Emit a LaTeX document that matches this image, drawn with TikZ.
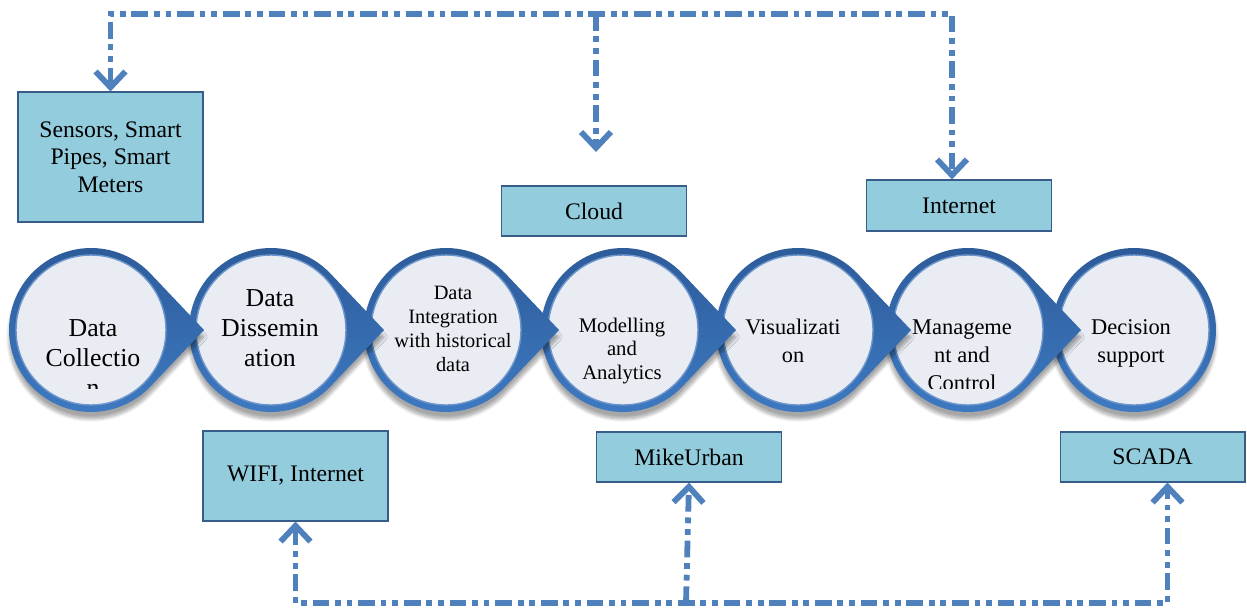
\documentclass[tikz,border=0pt]{standalone}
\usepackage{fontspec}
\setmainfont{Liberation Serif}
\usetikzlibrary{arrows.meta,calc,shadows.blur}
\definecolor{boxfill}{RGB}{147,205,221}
\definecolor{boxline}{RGB}{56,93,138}
\definecolor{linkblue}{RGB}{79,129,189}
\definecolor{ringtop}{RGB}{44,90,152}
\definecolor{ringbot}{RGB}{62,122,194}
\definecolor{stepfill}{RGB}{233,237,243}
\definecolor{stepedge}{RGB}{110,150,205}

\tikzset{
  infobox/.style={rectangle, draw=boxline, line width=0.6pt, fill=boxfill, minimum width=3.7cm, align=center, inner sep=0pt, font=\fontsize{13.5}{15.7}\selectfont},
  link/.style={draw=linkblue, line width=3.3pt, dash pattern=on 9.5pt off 3.3pt on 3.3pt off 3.3pt on 3.3pt off 3.3pt, >={Straight Barb[length=9pt,width=17pt]}},
  steptext/.style={align=center, inner sep=0pt, text=black},
  ring/.style={top color=ringtop, bottom color=ringbot, blur shadow={shadow xshift=0pt, shadow yshift=-4pt, shadow blur steps=8, shadow opacity=35}}
}

\begin{document}
\begin{tikzpicture}[x=0.02cm, y=-0.02cm]
    \useasboundingbox (0,0) rectangle (1247,609);

    \path[ring] (1134,330) circle[radius=1.64cm];
    \filldraw[fill=stepfill, draw=stepedge, line width=0.8pt] (1134,330) circle[radius=1.5cm];
    \foreach \cx in {968,798,623,446,271,91} {
        \path[ring] (\cx+113,330) -- ($(\cx,330)+(43.5:1.64cm)$) arc[start angle=43.5, end angle=316.5, radius=1.64cm] -- cycle;
        \filldraw[fill=stepfill, draw=stepedge, line width=0.8pt] (\cx,330) circle[radius=1.5cm];
    }

    \begin{scope}
        \clip (0,240) rectangle (1247,388);
        \node[steptext, font=\fontsize{14.7}{17}\selectfont] (collect) at (93,358) {Data\\Collectio\\n};
        \node[steptext, font=\fontsize{12.8}{15.9}\selectfont] (manage) at (962,355) {Manageme\\nt and\\Control};
    \end{scope}
    \node[steptext, font=\fontsize{14.7}{17}\selectfont] (dissem) at (270,328) {Data\\Dissemin\\ation};
    \node[steptext, font=\fontsize{11.6}{13.8}\selectfont] (integ) at (453,329) {Data\\Integration\\with historical\\data};
    \node[steptext, font=\fontsize{11.8}{13.6}\selectfont] (model) at (622,351) {Modelling\\and\\Analytics};
    \node[steptext, font=\fontsize{12.7}{15.9}\selectfont] (visual) at (793,341) {Visualizati\\on};
    \node[steptext, font=\fontsize{12.8}{15.9}\selectfont] (decide) at (1131,343) {Decision\\support};

    \node[infobox, minimum height=2.6cm] (sensors) at (110.5,157) {Sensors, Smart\\Pipes, Smart\\Meters};
    \node[infobox, minimum height=1cm] (cloud) at (594,211) {Cloud};
    \node[infobox, minimum height=1.02cm] (internet) at (959,205.5) {Internet};
    \node[infobox, minimum height=1.8cm] (wifi) at (295.5,476) {WIFI, Internet};
    \node[infobox, minimum height=1cm] (mike) at (689,457) {MikeUrban};
    \node[infobox, minimum height=1cm] (scada) at (1152.5,457) {SCADA};

    \coordinate (topbus) at (596,14);
    \coordinate (cloudend) at (596,152);
    \coordinate (botbus) at (686,603);

    \draw[link, <->] (sensors.north) |- (topbus) -| ($(internet.north)+(-7,0)$);
    \draw[link, ->] (topbus) -- (cloudend);
    \draw[link, <->] (wifi.south) |- (botbus) -| ($(scada.south)+(15,0)$);
    \draw[link, ->] (botbus) -- (mike.south);
\end{tikzpicture}
\end{document}
